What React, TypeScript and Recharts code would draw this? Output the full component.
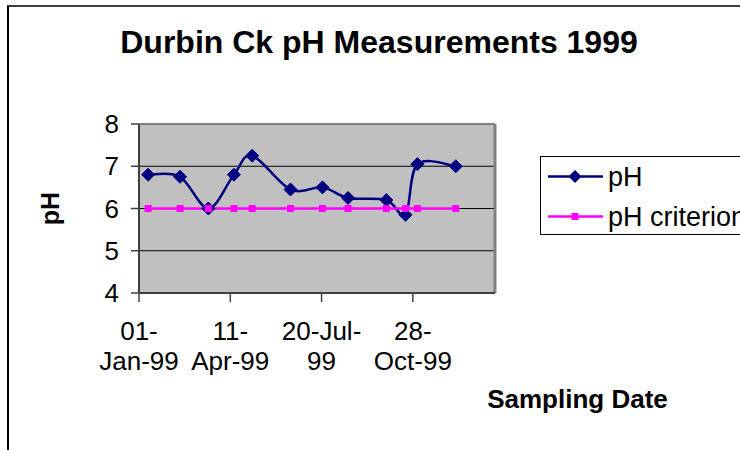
import React from 'react';
import { LineChart, Line, XAxis, YAxis, CartesianGrid, ReferenceLine, Customized } from 'recharts';

// ---- data ----
const sampleDates = [
  '1999-01-11', '1999-02-15', '1999-03-18', '1999-04-15', '1999-05-05', '1999-06-16',
  '1999-07-21', '1999-08-18', '1999-09-29', '1999-10-20', '1999-11-02', '1999-12-14',
];
const phValues = [6.8, 6.75, 6.0, 6.8, 7.25, 6.45, 6.5, 6.25, 6.2, 5.85, 7.05, 7.0];
const criterionValues = [6, 6, 6, 6, 6, 6, 6, 6, 6, 6, 6, 6];
const seriesNames = ['pH', 'pH criterion'];
const xTickDays = [0, 100, 200, 300];
const xTickLine1 = ['01-', '11-', '20-Jul-', '28-'];
const xTickLine2 = ['Jan-99', 'Apr-99', '99', 'Oct-99'];
const xDomain = [0, 390];
const yTicks = [4, 5, 6, 7, 8];
const chartTitle = 'Durbin Ck pH Measurements 1999';
const xAxisTitle = 'Sampling Date';
const yAxisTitle = 'pH';

const FONT = '"Liberation Sans", Arial, sans-serif';
const NAVY = '#000080';
const MAGENTA = '#ff00ff';

const origin = Date.parse('1999-01-01T00:00:00Z');
const dayOf = (s: string) => (Date.parse(s + 'T00:00:00Z') - origin) / 86400000;
const data = sampleDates.map((d, i) => ({ day: dayOf(d), ph: phValues[i], crit: criterionValues[i] }));

// Catmull-Rom style smoothing (similar to Excel's smoothed line)
function smoothCurve(context: any) {
  let pts: number[][] = [];
  return {
    areaStart() {},
    areaEnd() {},
    lineStart() {
      pts = [];
    },
    lineEnd() {
      const n = pts.length;
      if (!n) return;
      context.moveTo(pts[0][0], pts[0][1]);
      for (let i = 0; i < n - 1; i++) {
        const p0 = pts[i === 0 ? 0 : i - 1];
        const p1 = pts[i];
        const p2 = pts[i + 1];
        const p3 = pts[i + 2 < n ? i + 2 : n - 1];
        context.bezierCurveTo(
          p1[0] + (p2[0] - p0[0]) / 6,
          p1[1] + (p2[1] - p0[1]) / 6,
          p2[0] - (p3[0] - p1[0]) / 6,
          p2[1] - (p3[1] - p1[1]) / 6,
          p2[0],
          p2[1]
        );
      }
    },
    point(x: number, y: number) {
      pts.push([+x, +y]);
    },
  };
}

const DiamondDot = (props: any) => {
  const { cx, cy, index } = props;
  if (cx == null || cy == null) return null;
  const r = 6.5;
  return (
    <polygon
      key={'d' + index}
      points={`${cx},${cy - r} ${cx + r},${cy} ${cx},${cy + r} ${cx - r},${cy}`}
      fill={NAVY}
      stroke={NAVY}
      strokeWidth={1}
    />
  );
};

const SquareDot = (props: any) => {
  const { cx, cy, index } = props;
  if (cx == null || cy == null) return null;
  const s = 7;
  return <rect key={'s' + index} x={cx - s / 2} y={cy - s / 2} width={s} height={s} fill={MAGENTA} />;
};

const XTick = (props: any) => {
  const { x, y, payload } = props;
  const i = xTickDays.indexOf(payload.value);
  return (
    <g>
      <text x={x} y={y + 37.5} textAnchor="middle" fontSize={26} fontFamily={FONT} fill="#000">
        {xTickLine1[i]}
      </text>
      <text x={x} y={y + 67.5} textAnchor="middle" fontSize={26} fontFamily={FONT} fill="#000">
        {xTickLine2[i]}
      </text>
    </g>
  );
};

const Titles = () => (
  <g>
    <text x={379} y={53} textAnchor="middle" fontSize={32} fontWeight="bold" fontFamily={FONT} fill="#000">
      {chartTitle}
    </text>
    <text x={577.5} y={407.5} textAnchor="middle" fontSize={26} fontWeight="bold" fontFamily={FONT} fill="#000">
      {xAxisTitle}
    </text>
    <text
      x={59}
      y={208.5}
      textAnchor="middle"
      fontSize={25}
      fontWeight="bold"
      fontFamily={FONT}
      fill="#000"
      transform="rotate(-90, 59, 208.5)"
    >
      {yAxisTitle}
    </text>
  </g>
);

const LegendBox = () => (
  <div
    style={{
      position: 'absolute',
      left: 540,
      top: 156,
      width: 240,
      height: 79,
      border: '1px solid #000',
      background: '#fff',
      fontFamily: FONT,
      fontSize: 27,
      boxSizing: 'border-box',
    }}
  >
    <svg style={{ position: 'absolute', left: 0, top: 0 }} width={70} height={78}>
      <line x1={7} y1={19.5} x2={62} y2={19.5} stroke={NAVY} strokeWidth={2.5} />
      <polygon points="34,13 40.5,19.5 34,26 27.5,19.5" fill={NAVY} />
      <line x1={7} y1={59.5} x2={62} y2={59.5} stroke={MAGENTA} strokeWidth={2.5} />
      <rect x={30.5} y={56} width={7} height={7} fill={MAGENTA} />
    </svg>
    <div style={{ position: 'absolute', left: 67, top: 19.5 - 15, lineHeight: '30px', whiteSpace: 'nowrap' }}>
      {seriesNames[0]}
    </div>
    <div style={{ position: 'absolute', left: 67, top: 59.5 - 15, lineHeight: '30px', whiteSpace: 'nowrap' }}>
      {seriesNames[1]}
    </div>
  </div>
);

export default function App() {
  return (
    <div
      style={{
        position: 'absolute',
        left: 0,
        top: 0,
        width: 740,
        height: 450,
        overflow: 'hidden',
        background: '#fff',
      }}
    >
      <LineChart
        width={740}
        height={450}
        data={data}
        margin={{ top: 124, right: 245, bottom: 97, left: 79 }}
      >
        <CartesianGrid horizontal={true} vertical={false} stroke="#000" strokeWidth={1} fill="#c0c0c0" />
        <XAxis
          dataKey="day"
          type="number"
          domain={xDomain}
          ticks={xTickDays}
          interval={0}
          height={60}
          tickSize={9}
          tickMargin={0}
          tick={<XTick />}
          axisLine={{ stroke: '#404040', strokeWidth: 2 }}
          tickLine={{ stroke: '#404040', strokeWidth: 1.5 }}
          allowDataOverflow
        />
        <YAxis
          type="number"
          domain={[4, 8]}
          ticks={yTicks}
          interval={0}
          width={60}
          tickSize={8}
          tickMargin={12}
          tick={{ fontSize: 26, fontFamily: FONT, fill: '#000' }}
          axisLine={{ stroke: '#404040', strokeWidth: 2 }}
          tickLine={{ stroke: '#404040', strokeWidth: 1.5 }}
        />
        <ReferenceLine y={8} stroke="#808080" strokeWidth={2} ifOverflow="visible" />
        <ReferenceLine x={390} stroke="#808080" strokeWidth={3} ifOverflow="visible" />
        <Line
          dataKey="ph"
          name={seriesNames[0]}
          type={smoothCurve as any}
          stroke={NAVY}
          strokeWidth={2.5}
          dot={<DiamondDot />}
          activeDot={false}
          isAnimationActive={false}
        />
        <Line
          dataKey="crit"
          name={seriesNames[1]}
          type="linear"
          stroke={MAGENTA}
          strokeWidth={2.5}
          dot={<SquareDot />}
          activeDot={false}
          isAnimationActive={false}
        />
        <Customized component={Titles} />
      </LineChart>
      <LegendBox />
      <div
        style={{
          position: 'absolute',
          left: 7,
          top: 5,
          width: 1000,
          height: 1000,
          borderTop: '2px solid #3c3c3c',
          borderLeft: '2px solid #000',
          pointerEvents: 'none',
        }}
      />
    </div>
  );
}
